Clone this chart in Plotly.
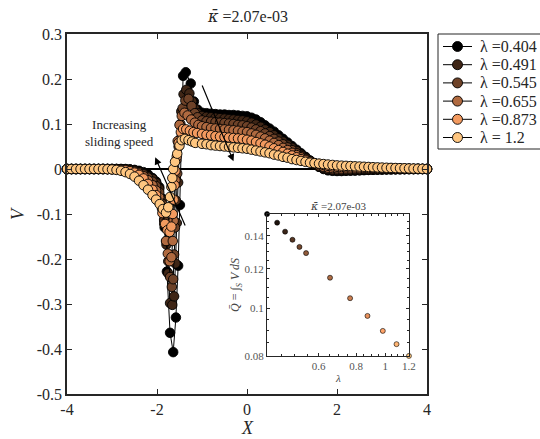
import plotly.graph_objects as go

# ---------------- data ----------------
LEGEND_NAMES = ["λ =0.404", "λ =0.491", "λ =0.545", "λ =0.655", "λ =0.873", "λ = 1.2"]

X_LEFT = [-4.0, -3.9, -3.8, -3.7, -3.6, -3.5, -3.4, -3.3, -3.2, -3.1,
          -3.0, -2.9, -2.8, -2.7, -2.6, -2.5, -2.4, -2.3, -2.2]
X_RIGHT = [-1.0, -0.9, -0.8, -0.7, -0.6, -0.5, -0.4, -0.3, -0.2, -0.1,
           0.0, 0.1, 0.2, 0.3, 0.4, 0.5, 0.6, 0.7, 0.8, 0.9,
           1.0, 1.1, 1.2, 1.3, 1.4, 1.5, 1.6, 1.7, 1.8, 1.9,
           2.0, 2.1, 2.2, 2.3, 2.4, 2.5, 2.6, 2.7, 2.8, 2.9,
           3.0, 3.1, 3.2, 3.3, 3.4, 3.5, 3.6, 3.7, 3.8, 3.9, 4.0]

# lambda = 0.404
V_LEFT_0404 = [0, 0, 0, 0, 0, 0, 0, 0, 0, 0, 0, 0, 0, 0, -0.001, -0.002, -0.004, -0.007, -0.012]
X_DIP_0404 = [-2.1, -2.02, -1.95, -1.89, -1.83, -1.78, -1.71, -1.64, -1.58, -1.53, -1.49, -1.46, -1.42, -1.36, -1.25, -1.18, -1.1]
V_DIP_0404 = [-0.020, -0.028, -0.040, -0.065, -0.130, -0.228, -0.364, -0.407, -0.330, -0.215, -0.080, 0.070, 0.207, 0.215, 0.190, 0.150, 0.132]
V_RIGHT_0404 = [0.125, 0.124, 0.123, 0.122, 0.121, 0.121, 0.120, 0.120, 0.119, 0.118,
                0.117, 0.114, 0.110, 0.104, 0.097, 0.090, 0.083, 0.075, 0.067, 0.059,
                0.051, 0.043, 0.035, 0.027, 0.019, 0.012, 0.005, 0.000, -0.003, -0.004,
                -0.0045, -0.0045, -0.004, -0.0038, -0.0035, -0.003, -0.0025, -0.002, -0.0018, -0.0015,
                -0.0012, -0.001, -0.0008, -0.0006, -0.0004, -0.0003, -0.0002, -0.0001, 0.0, 0.0, 0.0]

# lambda = 0.491
V_LEFT_0491 = [0, 0, 0, 0, 0, 0, 0, 0, 0, 0, 0, 0, 0, -0.0005, -0.001, -0.003, -0.006, -0.010, -0.016]
X_DIP_0491 = [-2.1, -2.02, -1.95, -1.89, -1.84, -1.79, -1.75, -1.71, -1.66, -1.62, -1.59, -1.56, -1.53, -1.50, -1.46, -1.41, -1.35, -1.28, -1.22, -1.16, -1.1]
V_DIP_0491 = [-0.022, -0.031, -0.044, -0.068, -0.112, -0.168, -0.232, -0.298, -0.302, -0.283, -0.210, -0.120, -0.030, 0.060, 0.128, 0.166, 0.176, 0.168, 0.150, 0.134, 0.124]
V_RIGHT_0491 = [0.118, 0.116, 0.115, 0.114, 0.113, 0.112, 0.111, 0.110, 0.109, 0.108,
                0.106, 0.103, 0.099, 0.094, 0.088, 0.082, 0.075, 0.068, 0.061, 0.054,
                0.047, 0.040, 0.032, 0.025, 0.018, 0.011, 0.005, 0.001, -0.002, -0.003,
                -0.0035, -0.0035, -0.0032, -0.003, -0.0028, -0.0025, -0.002, -0.0018, -0.0015, -0.0012,
                -0.001, -0.0008, -0.0006, -0.0005, -0.0003, -0.0002, -0.0001, -0.0001, 0.0, 0.0, 0.0]

# lambda = 0.545
V_LEFT_0545 = [0, 0, 0, 0, 0, 0, 0, 0, 0, 0, 0, 0, -0.0005, -0.001, -0.002, -0.004, -0.007, -0.012, -0.019]
X_DIP_0545 = [-2.1, -2.02, -1.95, -1.89, -1.84, -1.79, -1.75, -1.71, -1.67, -1.64, -1.62, -1.60, -1.58, -1.55, -1.52, -1.48, -1.43, -1.37, -1.30, -1.23, -1.16, -1.1]
V_DIP_0545 = [-0.028, -0.038, -0.052, -0.077, -0.115, -0.160, -0.205, -0.240, -0.262, -0.245, -0.190, -0.130, -0.070, -0.010, 0.050, 0.100, 0.135, 0.152, 0.156, 0.140, 0.124, 0.115]
V_RIGHT_0545 = [0.108, 0.106, 0.105, 0.104, 0.103, 0.102, 0.101, 0.100, 0.098, 0.097,
                0.095, 0.092, 0.088, 0.084, 0.079, 0.073, 0.067, 0.061, 0.055, 0.048,
                0.042, 0.035, 0.029, 0.023, 0.017, 0.011, 0.006, 0.003, 0.000, -0.001,
                -0.0015, -0.0015, -0.0015, -0.0012, -0.001, -0.001, -0.0008, -0.0007, -0.0006, -0.0005,
                -0.0004, -0.0003, -0.0003, -0.0002, -0.0002, -0.0001, -0.0001, 0.0, 0.0, 0.0, 0.0]

# lambda = 0.655
V_LEFT_0655 = [0, 0, 0, 0, 0, 0, 0, 0, 0, 0, 0, -0.0005, -0.001, -0.002, -0.004, -0.006, -0.010, -0.016, -0.025]
X_DIP_0655 = [-2.1, -2.02, -1.95, -1.89, -1.84, -1.80, -1.76, -1.72, -1.68, -1.65, -1.63, -1.61, -1.59, -1.57, -1.54, -1.50, -1.45, -1.39, -1.32, -1.24, -1.16, -1.08]
V_DIP_0655 = [-0.036, -0.048, -0.063, -0.088, -0.122, -0.160, -0.188, -0.205, -0.196, -0.160, -0.115, -0.070, -0.025, 0.020, 0.062, 0.098, 0.118, 0.125, 0.119, 0.110, 0.103, 0.098]
V_RIGHT_0655 = [0.095, 0.093, 0.091, 0.090, 0.089, 0.088, 0.087, 0.086, 0.085, 0.083,
                0.082, 0.079, 0.076, 0.072, 0.068, 0.063, 0.058, 0.053, 0.047, 0.042,
                0.036, 0.031, 0.026, 0.021, 0.016, 0.012, 0.008, 0.005, 0.003, 0.002,
                0.0015, 0.001, 0.001, 0.0008, 0.0008, 0.0006, 0.0006, 0.0005, 0.0004, 0.0004,
                0.0003, 0.0003, 0.0002, 0.0002, 0.0001, 0.0001, 0.0001, 0.0, 0.0, 0.0, 0.0]

# lambda = 0.873
V_LEFT_0873 = [0, 0, 0, 0, 0, 0, 0, 0, 0, 0, -0.0005, -0.001, -0.002, -0.003, -0.005, -0.008, -0.013, -0.021, -0.033]
X_DIP_0873 = [-2.1, -2.02, -1.95, -1.88, -1.82, -1.77, -1.72, -1.68, -1.65, -1.63, -1.61, -1.59, -1.56, -1.52, -1.47, -1.42, -1.35, -1.27, -1.19, -1.11]
V_DIP_0873 = [-0.046, -0.058, -0.074, -0.098, -0.122, -0.136, -0.140, -0.128, -0.100, -0.068, -0.036, -0.004, 0.028, 0.058, 0.082, 0.089, 0.088, 0.085, 0.082, 0.080]
V_RIGHT_0873 = [0.078, 0.076, 0.075, 0.073, 0.072, 0.071, 0.070, 0.069, 0.068, 0.067,
                0.065, 0.063, 0.060, 0.057, 0.054, 0.050, 0.046, 0.042, 0.038, 0.034,
                0.030, 0.026, 0.022, 0.019, 0.016, 0.013, 0.011, 0.009, 0.007, 0.006,
                0.005, 0.0045, 0.004, 0.0037, 0.0034, 0.003, 0.0028, 0.0025, 0.0022, 0.002,
                0.0018, 0.0016, 0.0014, 0.0012, 0.001, 0.0009, 0.0007, 0.0005, 0.0004, 0.0002, 0.0]

# lambda = 1.2
V_LEFT_1200 = [0, 0, 0, 0, 0, 0, 0, 0, 0, -0.0005, -0.001, -0.002, -0.004, -0.007, -0.011, -0.017, -0.026, -0.036, -0.046]
X_DIP_1200 = [-2.1, -2.02, -1.94, -1.87, -1.80, -1.75, -1.71, -1.68, -1.66, -1.64, -1.60, -1.55, -1.50, -1.45, -1.38, -1.30, -1.22, -1.15]
V_DIP_1200 = [-0.058, -0.068, -0.078, -0.089, -0.097, -0.085, -0.062, -0.040, -0.020, 0.000, 0.016, 0.034, 0.052, 0.064, 0.067, 0.064, 0.061, 0.058]
V_RIGHT_1200 = [0.056, 0.055, 0.053, 0.052, 0.051, 0.050, 0.049, 0.048, 0.047, 0.046,
                0.045, 0.043, 0.041, 0.039, 0.037, 0.035, 0.032, 0.030, 0.027, 0.025,
                0.022, 0.020, 0.018, 0.016, 0.014, 0.013, 0.012, 0.011, 0.010, 0.009,
                0.008, 0.0075, 0.007, 0.0065, 0.006, 0.0055, 0.005, 0.0045, 0.004, 0.0036,
                0.0032, 0.0028, 0.0025, 0.0022, 0.0019, 0.0016, 0.0013, 0.001, 0.0007, 0.0004, 0.0]

# inset: lambda vs Q
INSET_LAMBDA = [0.404, 0.4365, 0.464, 0.491, 0.518, 0.545, 0.655, 0.764, 0.873, 0.982, 1.091, 1.2]
INSET_Q = [0.1550, 0.1489, 0.1428, 0.1375, 0.1330, 0.1292, 0.1152, 0.1047, 0.0964, 0.0899, 0.0845, 0.0800]

X_TICKS = [-4, -2, 0, 2, 4]
X_TICKTEXT = ["-4", "-2", "0", "2", "4"]
Y_TICKS = [0.3, 0.2, 0.1, 0, -0.1, -0.2, -0.3, -0.4, -0.5]
Y_TICKTEXT = ["0.3", "0.2", "0.1", "0", "-0.1", "-0.2", "-0.3", "-0.4", "-0.5"]
IX_TICKS = [0.6, 0.8, 1, 1.2]
IX_TICKTEXT = ["0.6", "0.8", "1", "1.2"]
IY_TICKS = [0.08, 0.1, 0.12, 0.14]
IY_TICKTEXT = ["0.08", "0.1", "0.12", "0.14"]

# ---------------- styles ----------------
SERIES_COLORS = ["#000000", "#3f2616", "#6e4228", "#b06a40", "#f39a5f", "#ffc680"]
FONT = "'Liberation Serif', 'Times New Roman', 'DejaVu Serif', serif"
AXC = "#262626"
KAPPA = '<span style="font-family:DejaVu Serif"><i>κ̄</i></span>'


def copper(t):
    r = min(1.0, 1.25 * t)
    g = 0.7812 * t
    b = 0.4975 * t
    return "rgb(%d,%d,%d)" % (round(r * 255), round(g * 255), round(b * 255))


series = [
    (V_LEFT_0404, X_DIP_0404, V_DIP_0404, V_RIGHT_0404),
    (V_LEFT_0491, X_DIP_0491, V_DIP_0491, V_RIGHT_0491),
    (V_LEFT_0545, X_DIP_0545, V_DIP_0545, V_RIGHT_0545),
    (V_LEFT_0655, X_DIP_0655, V_DIP_0655, V_RIGHT_0655),
    (V_LEFT_0873, X_DIP_0873, V_DIP_0873, V_RIGHT_0873),
    (V_LEFT_1200, X_DIP_1200, V_DIP_1200, V_RIGHT_1200),
]

fig = go.Figure()

# zero line
fig.add_trace(go.Scatter(x=[X_LEFT[0], X_RIGHT[-1]], y=[0, 0], mode="lines",
                         line=dict(color="black", width=2), showlegend=False,
                         hoverinfo="skip", xaxis="x", yaxis="y"))

for (vl, xd, vd, vr), name, col in zip(series, LEGEND_NAMES, SERIES_COLORS):
    xs = X_LEFT + xd + X_RIGHT
    vs = vl + vd + vr
    fig.add_trace(go.Scatter(
        x=xs, y=vs, mode="lines+markers", name=name, showlegend=False,
        line=dict(color="black", width=1),
        marker=dict(size=9.5, color=col, line=dict(color="black", width=0.9)),
        xaxis="x", yaxis="y", cliponaxis=False))

n = len(INSET_LAMBDA)
fig.add_trace(go.Scatter(
    x=INSET_LAMBDA, y=INSET_Q, mode="markers", showlegend=False,
    marker=dict(size=5, color=[copper(i / (n - 1)) for i in range(n)],
                line=dict(color="black", width=0.6)),
    xaxis="x2", yaxis="y2", cliponaxis=False))

L, R, T, B = 67, 427, 34, 394
W, H = 540, 439
PW, PH = R - L, B - T


def px_x(p):
    return (p - L) / PW


def px_y(p):
    return (B - p) / PH


TF = dict(size=16, family=FONT, color=AXC)
ITF = dict(size=11, family=FONT, color="#555555")

fig.update_layout(
    width=W, height=H,
    margin=dict(l=L, r=W - R, t=T, b=H - B, autoexpand=False),
    paper_bgcolor="white", plot_bgcolor="white",
    font=dict(family=FONT, color=AXC, size=16),
    showlegend=False,
    xaxis=dict(domain=[0, 1], range=[-4, 4], tickvals=X_TICKS, ticktext=X_TICKTEXT,
               ticks="inside", ticklen=5, tickwidth=1, tickcolor=AXC,
               showline=True, linecolor=AXC, linewidth=1.5, mirror="ticks",
               showgrid=False, zeroline=False, tickfont=TF),
    yaxis=dict(domain=[0, 1], range=[-0.5, 0.3], tickvals=Y_TICKS, ticktext=Y_TICKTEXT,
               ticks="inside", ticklen=5, tickwidth=1, tickcolor=AXC,
               showline=True, linecolor=AXC, linewidth=1.5, mirror="ticks",
               showgrid=False, zeroline=False, tickfont=TF),
    xaxis2=dict(domain=[px_x(267), px_x(409)], type="log",
                range=[-0.3938, 0.0794], anchor="y2",
                tickvals=IX_TICKS, ticktext=IX_TICKTEXT,
                ticks="inside", ticklen=3, tickwidth=0.8, tickcolor=AXC,
                minor=dict(tickmode="array", tickvals=[0.45, 0.5, 0.55, 0.65, 0.7, 0.75, 0.85, 0.9, 0.95, 1.05, 1.1, 1.15],
                           ticks="inside", ticklen=2, tickcolor=AXC),
                showline=True, linecolor=AXC, linewidth=1, mirror="ticks",
                showgrid=False, zeroline=False, tickfont=ITF),
    yaxis2=dict(domain=[px_y(356), px_y(214)], type="log",
                range=[-1.0971, -0.8095], anchor="x2",
                tickvals=IY_TICKS, ticktext=IY_TICKTEXT,
                ticks="inside", ticklen=3, tickwidth=0.8, tickcolor=AXC,
                minor=dict(tickmode="array", tickvals=[0.085, 0.09, 0.095, 0.105, 0.11, 0.115, 0.125, 0.13, 0.135, 0.145, 0.15],
                           ticks="inside", ticklen=2, tickcolor=AXC),
                showline=True, linecolor=AXC, linewidth=1, mirror="ticks",
                showgrid=False, zeroline=False, tickfont=ITF),
)

ann = [
    dict(text=KAPPA + " =2.07e-03", x=px_x(247), y=px_y(17), xref="paper", yref="paper",
         showarrow=False, font=dict(size=16, family=FONT, color=AXC), xanchor="center", yanchor="middle"),
    dict(text="<i>X</i>", x=0.5, y=px_y(428), xref="paper", yref="paper",
         showarrow=False, font=dict(size=18, family=FONT, color=AXC), xanchor="center", yanchor="middle"),
    dict(text="<i>V</i>", x=px_x(18), y=0.5, xref="paper", yref="paper", textangle=-90,
         showarrow=False, font=dict(size=18, family=FONT, color=AXC), xanchor="center", yanchor="middle"),
    dict(text="Increasing<br>sliding speed", x=-2.84, y=0.08, xref="x", yref="y",
         showarrow=False, font=dict(size=13, family=FONT, color=AXC), xanchor="center", yanchor="middle"),
    dict(x=-2.04, y=0.026, ax=-1.36, ay=-0.129, xref="x", yref="y", axref="x", ayref="y",
         text="", showarrow=True, arrowhead=2, arrowsize=1.2, arrowwidth=1.2, arrowcolor="black"),
    dict(x=-0.30, y=0.017, ax=-1.01, ay=0.189, xref="x", yref="y", axref="x", ayref="y",
         text="", showarrow=True, arrowhead=2, arrowsize=1.2, arrowwidth=1.2, arrowcolor="black"),
    dict(text=KAPPA + " =2.07e-03", x=px_x(338), y=px_y(206), xref="paper", yref="paper",
         showarrow=False, font=dict(size=11, family=FONT, color="#444444"), xanchor="center", yanchor="middle"),
    dict(text="<i>λ</i>", x=px_x(338), y=px_y(378), xref="paper", yref="paper",
         showarrow=False, font=dict(size=11, family=FONT, color="#444444"), xanchor="center", yanchor="middle"),
    dict(text="<i>Q̄</i> = ∫<sub><i>S</i></sub> <i>V dS</i>", x=px_x(236), y=px_y(285), xref="paper", yref="paper",
         textangle=-90, showarrow=False, font=dict(size=12, family=FONT, color="#444444"),
         xanchor="center", yanchor="middle"),
]

# ---- hand-drawn legend (box, line segments, markers, labels) ----
LEG_LEFT, LEG_TOP, LEG_BOTTOM, LEG_RIGHT = 438, 34, 149, 548
LEG_Y0, LEG_DY = 46.5, 18.2
shapes = [dict(type="rect", xref="paper", yref="paper",
               x0=px_x(LEG_LEFT), x1=px_x(LEG_RIGHT), y0=px_y(LEG_BOTTOM), y1=px_y(LEG_TOP),
               line=dict(color=AXC, width=1), fillcolor="white", layer="above")]
for i, (name, col) in enumerate(zip(LEGEND_NAMES, SERIES_COLORS)):
    yc = LEG_Y0 + LEG_DY * i
    shapes.append(dict(type="line", xref="paper", yref="paper",
                       x0=px_x(443), x1=px_x(472), y0=px_y(yc), y1=px_y(yc),
                       line=dict(color="black", width=1), layer="above"))
    shapes.append(dict(type="circle", xref="paper", yref="paper",
                       xsizemode="pixel", ysizemode="pixel",
                       xanchor=px_x(457.5), yanchor=px_y(yc),
                       x0=-5, x1=5, y0=-5, y1=5,
                       fillcolor=col, line=dict(color="black", width=0.9), layer="above"))
    ann.append(dict(text=name, x=px_x(478), y=px_y(yc), xref="paper", yref="paper",
                    showarrow=False, xanchor="left", yanchor="middle",
                    font=dict(size=16, family=FONT, color=AXC)))

fig.update_layout(annotations=ann, shapes=shapes)

fig.write_html("out.html")
